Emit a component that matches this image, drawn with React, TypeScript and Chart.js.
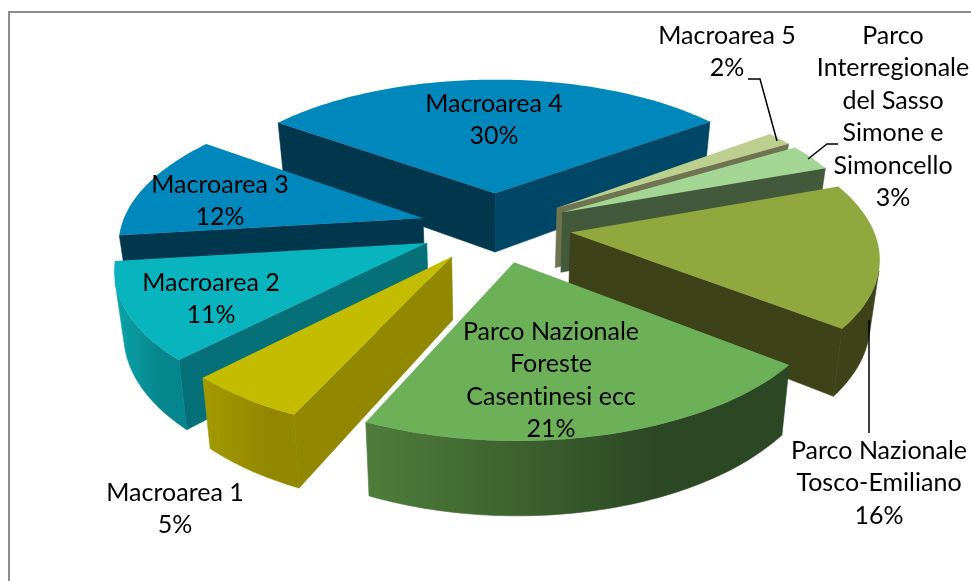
import React, { useEffect, useRef } from "react";
import { Chart, registerables } from "chart.js";

Chart.register(...registerables);

const categories = [
  "Macroarea 1",
  "Macroarea 2",
  "Macroarea 3",
  "Macroarea 4",
  "Macroarea 5",
  "Parco Interregionale del Sasso Simone e Simoncello",
  "Parco Nazionale Tosco-Emiliano",
  "Parco Nazionale Foreste Casentinesi ecc",
];
const shares = [5.4, 10.85, 11.95, 29.8, 1.6, 3.05, 16.1, 21.25];
const explode = [0.25, 0.25, 0.25, 0.25, 0.25, 0.25, 0.25, 0.25];

const topColors = ["#C4BC00", "#08B5BE", "#0088BC", "#0088BC", "#BDCF8E", "#A3D595", "#90A83E", "#6CB158"];
const startFace = ["#928800", "#057078", "#00374D", "#00374D", "#6E7350", "#43593C", "#3D4219", "#2B4723"];
const endFace = ["#928800", "#057078", "#00374D", "#004767", "#6E7350", "#43593C", "#3D4219", "#4F7D3B"];
const wallLeft = ["#A39A00", "#0AA5AB", "#00374D", "#004767", "#6E7350", "#43593C", "#3D4219", "#4F7D3B"];
const wallRight = ["#928800", "#05868C", "#00374D", "#004767", "#6E7350", "#43593C", "#3D4219", "#2B4723"];

const labelLines = [
  ["Macroarea 1"],
  ["Macroarea 2"],
  ["Macroarea 3"],
  ["Macroarea 4"],
  ["Macroarea 5"],
  ["Parco", "Interregionale", "del Sasso", "Simone e", "Simoncello"],
  ["Parco Nazionale", "Tosco-Emiliano"],
  ["Parco Nazionale", "Foreste", "Casentinesi ecc"],
];
const labelX = [175, 211, 220, 494, 727, 893, 879, 551];
const labelY = [493, 283, 185, 104, 36, 36, 451, 332];
const LINE = 32.4;

const leaders = [
  [[748, 79], [760, 79], [777, 141]],
  [[838, 144], [827, 144], [808, 159]],
  [[869, 320], [869, 433]],
];

const CX = 495.5;
const CY = 227;
const RX = 302;
const RY = 140;
const PERSP = 0.15;
const DEPTH = 61;
const SQUEEZE = 0.025;

function project(u: number, v: number, z: number) {
  const w = 1 + PERSP * v;
  const x = (RX * u) / w;
  return [CX + x * (1 - SQUEEZE * z), CY - (RY * v) / w + (DEPTH * z) / w];
}

function shoelace(pts: number[][]) {
  let s = 0;
  pts.forEach((p, k) => {
    const q = pts[(k + 1) % pts.length];
    s += p[0] * q[1] - q[0] * p[1];
  });
  return s;
}

const pie3d = {
  id: "pie3d",
  beforeDraw(chart: any) {
    const c = chart.ctx;
    c.save();
    c.strokeStyle = "#8C8C8C";
    c.lineWidth = 2;
    c.beginPath();
    c.moveTo(9, 590);
    c.lineTo(9, 12);
    c.lineTo(980, 12);
    c.stroke();
    c.restore();
  },
  beforeDatasetsDraw(chart: any) {
    const c = chart.ctx;
    const arcs = chart.getDatasetMeta(0).data;
    const slices = arcs.map((arc: any, i: number) => {
      const t0 = arc.startAngle;
      const t1 = arc.endAngle;
      const mid = (t0 + t1) / 2;
      const e = explode[i];
      const ax = e * Math.cos(mid);
      const ay = -e * Math.sin(mid);
      const rim: number[][] = [];
      const n = Math.max(2, Math.ceil(((t1 - t0) * 180) / Math.PI));
      for (let k = 0; k <= n; k++) {
        const t = t0 + ((t1 - t0) * k) / n;
        rim.push([ax + Math.cos(t), ay - Math.sin(t)]);
      }
      return { i, ax, ay, rim, apexY: project(ax, ay, 0)[1] };
    });
    slices.sort((a: any, b: any) => a.apexY - b.apexY);
    const poly = (pts: number[][], fill: any, seal = false) => {
      c.beginPath();
      pts.forEach((p, k) => (k ? c.lineTo(p[0], p[1]) : c.moveTo(p[0], p[1])));
      c.closePath();
      c.fillStyle = fill;
      c.fill();
      if (seal) {
        c.strokeStyle = fill;
        c.lineWidth = 0.6;
        c.stroke();
      }
    };
    c.save();
    for (const s of slices) {
      const { i, ax, ay, rim } = s;
      const apex0 = project(ax, ay, 0);
      const apex1 = project(ax, ay, 1);
      const top = rim.map((p: number[]) => project(p[0], p[1], 0));
      const bottom = rim.map((p: number[]) => project(p[0], p[1], 1));
      const f0 = top[0];
      const f1 = bottom[0];
      const l0 = top[top.length - 1];
      const l1 = bottom[bottom.length - 1];
      const startQuad = [f0, apex0, apex1, f1];
      if (shoelace(startQuad) > 0) poly(startQuad, startFace[i], true);
      const endQuad = [apex0, l0, l1, apex1];
      if (shoelace(endQuad) > 0) poly(endQuad, endFace[i], true);
      const xs = top.map((p: number[]) => p[0]);
      const g = c.createLinearGradient(Math.min(...xs), 0, Math.max(...xs), 0);
      g.addColorStop(0, wallLeft[i]);
      g.addColorStop(0.7, wallRight[i]);
      g.addColorStop(1, wallRight[i]);
      let run: number[] = [];
      const flush = () => {
        if (run.length > 1) {
          const upper = run.map((k) => top[k]);
          const lower = run.map((k) => bottom[k]).reverse();
          poly([...upper, ...lower], g, true);
        }
        run = [];
      };
      for (let k = 0; k + 1 < top.length; k++) {
        const q = [top[k + 1], top[k], bottom[k], bottom[k + 1]];
        if (shoelace(q) > 0) {
          if (!run.length) run.push(k);
          run.push(k + 1);
        } else {
          flush();
        }
      }
      flush();
      poly([apex0, ...top], topColors[i]);
    }
    c.restore();
    return false;
  },
  afterDraw(chart: any) {
    const c = chart.ctx;
    c.save();
    c.strokeStyle = "#000";
    c.lineWidth = 1.5;
    for (const l of leaders) {
      c.beginPath();
      l.forEach((p, k) => (k ? c.lineTo(p[0], p[1]) : c.moveTo(p[0], p[1])));
      c.stroke();
    }
    c.fillStyle = "#000";
    c.font = '25px Lato, "Noto Sans", sans-serif';
    (c as any).letterSpacing = "0.01px";
    c.textAlign = "center";
    c.textBaseline = "middle";
    labelLines.forEach((lines, i) => {
      const all = [...lines, `${Math.round(shares[i])}%`];
      all.forEach((txt, k) => c.fillText(txt, labelX[i], labelY[i] + k * LINE));
    });
    c.restore();
  },
};

export default function App() {
  const ref = useRef<HTMLCanvasElement>(null);
  useEffect(() => {
    const chart = new Chart(ref.current as HTMLCanvasElement, {
      type: "pie",
      data: {
        labels: categories,
        datasets: [{ data: shares, backgroundColor: topColors, borderWidth: 0 }],
      },
      options: {
        responsive: false,
        animation: false,
        devicePixelRatio: 1,
        rotation: 204.5,
        plugins: { legend: { display: false }, tooltip: { enabled: false } },
      } as any,
      plugins: [pie3d as any],
    });
    return () => chart.destroy();
  }, []);
  return (
    <canvas
      ref={ref}
      width={971}
      height={581}
      style={{ position: "absolute", left: 0, top: 0, width: 971, height: 581, background: "#fff" }}
    />
  );
}
